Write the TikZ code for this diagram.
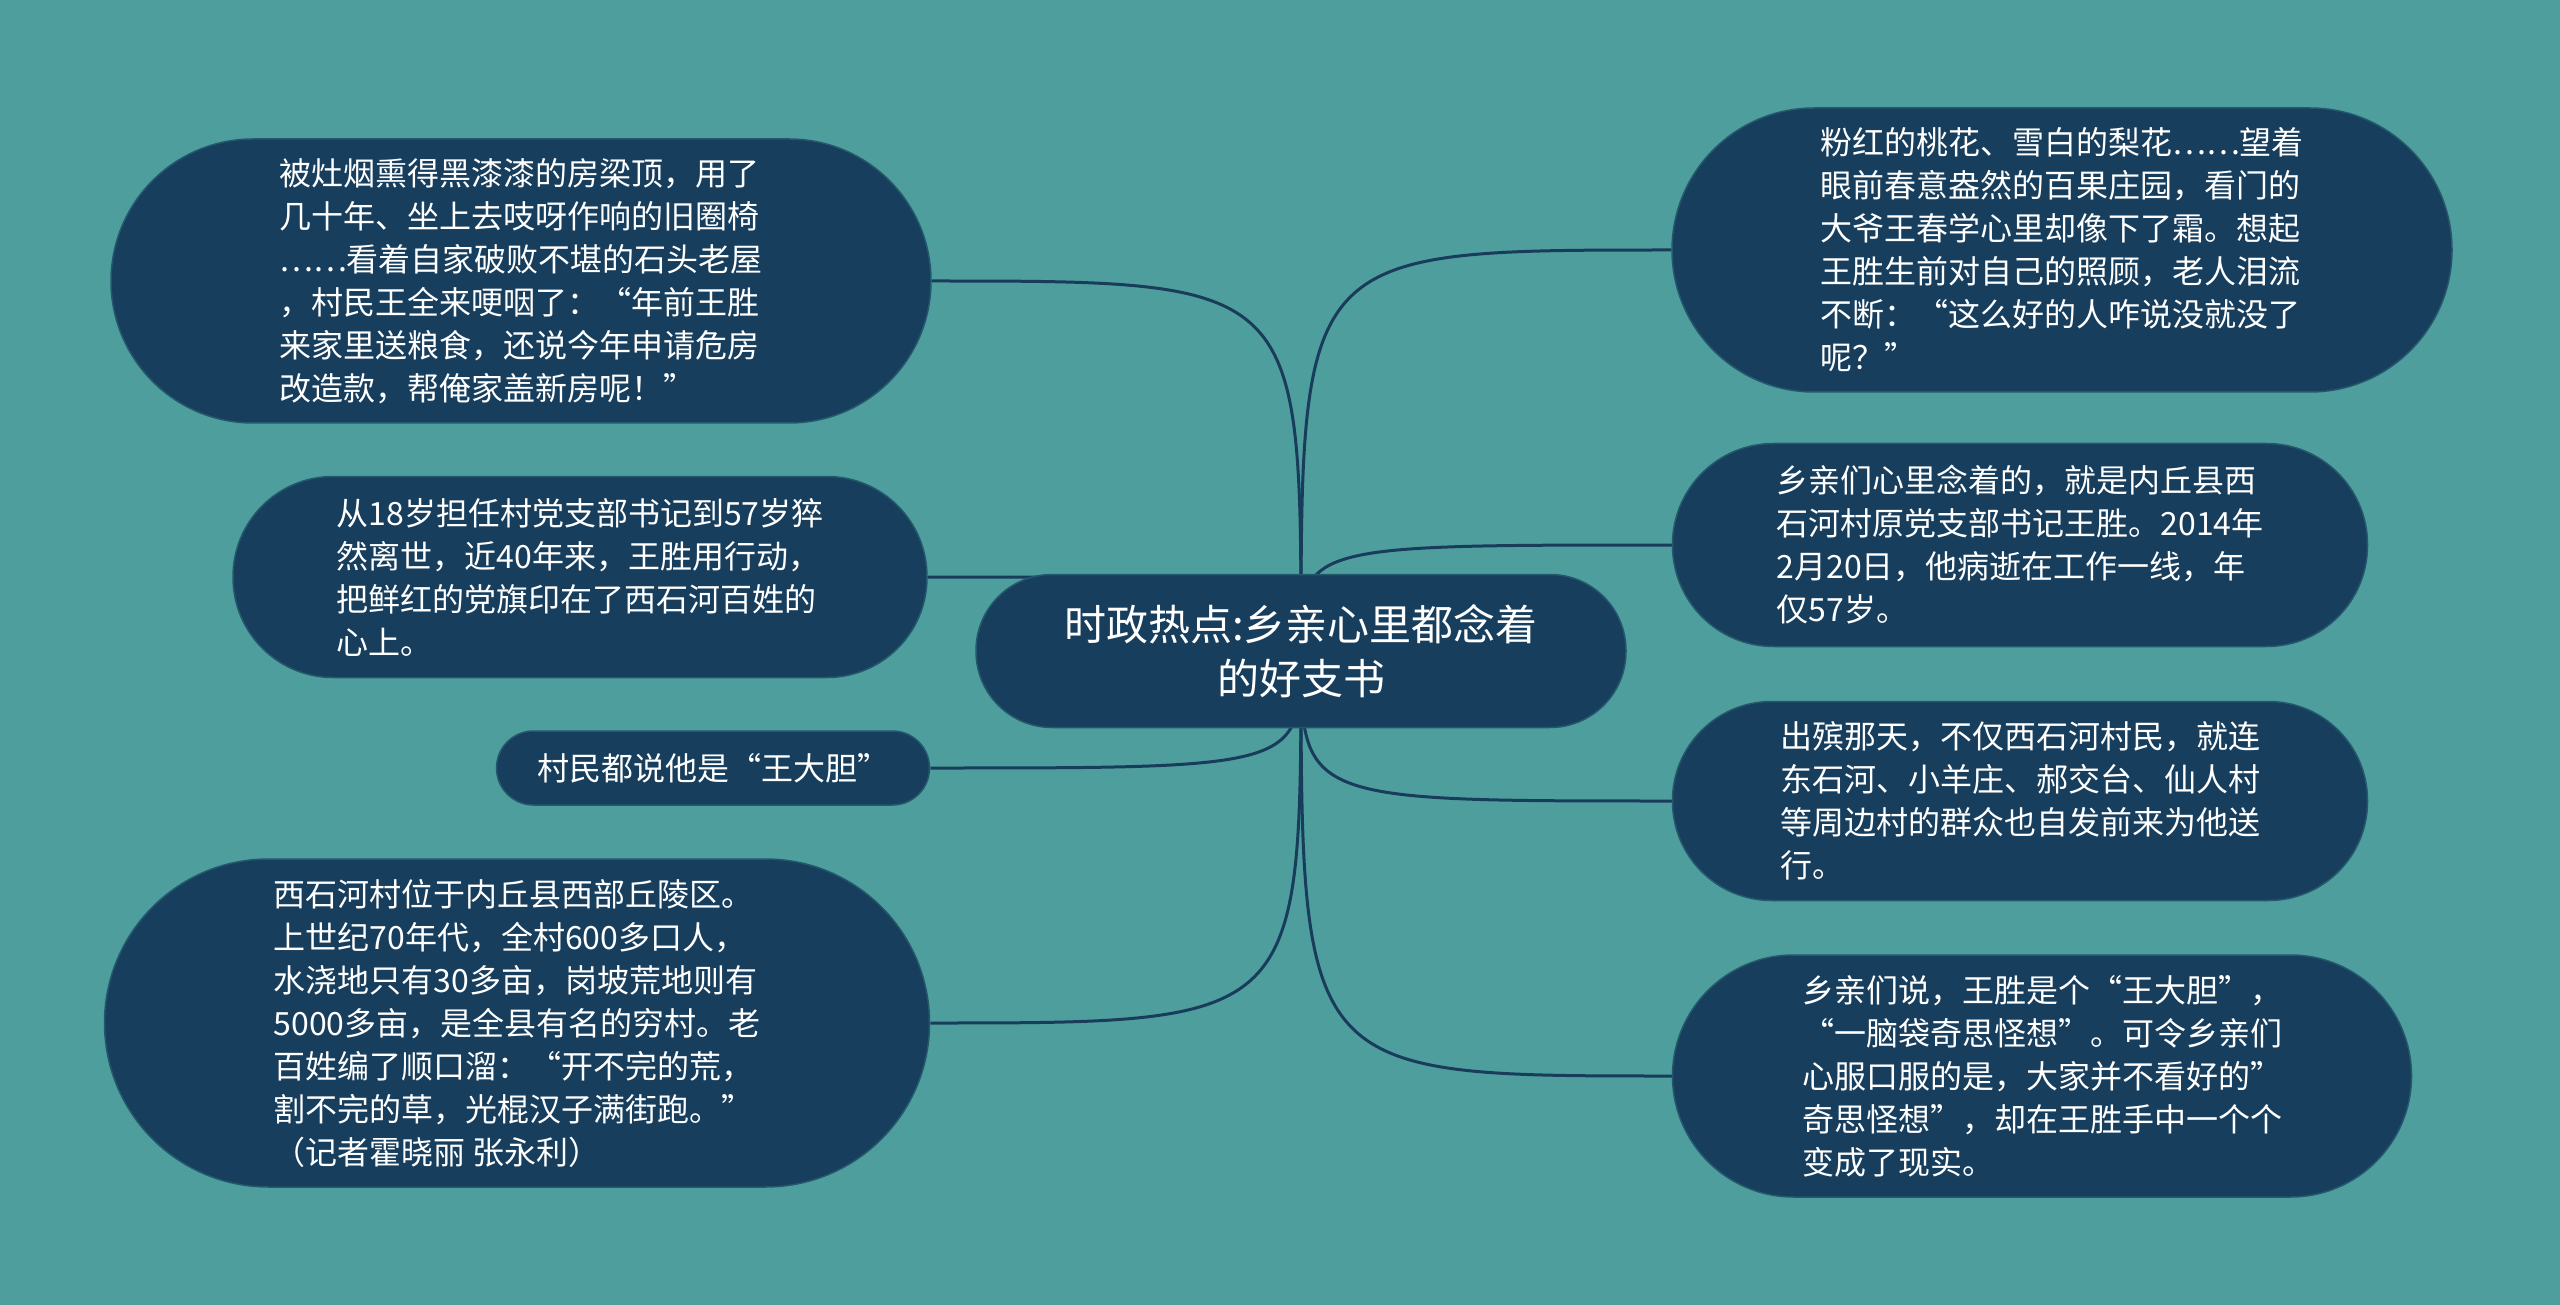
\documentclass[tikz,border=0pt]{standalone}
\usepackage{fontspec}
\setmainfont{Noto Sans CJK SC}
\usetikzlibrary{backgrounds}
\definecolor{bg}{RGB}{78,158,157}
\definecolor{nodefill}{RGB}{23,62,93}
\definecolor{nodeborder}{RGB}{36,88,108}
\definecolor{edgecol}{RGB}{24,60,90}
\begin{document}
\begin{tikzpicture}[x=1pt,y=-1pt,
  leaf/.style={fill=nodefill, draw=nodeborder, line width=1.5pt, text=white,
    align=left, inner sep=0pt, font=\fontsize{32}{43}\selectfont},
  rootbox/.style={fill=nodefill, draw=nodeborder, line width=1.5pt, text=white,
    align=center, inner sep=0pt, font=\fontsize{42}{54}\selectfont},
  link/.style={draw=edgecol, line width=3pt}]
\useasboundingbox (0,0) rectangle (2560,1305);

\node[rootbox, minimum width=650pt, minimum height=153pt, rounded corners=76pt] (root) at (1301,651)
  {时政热点:乡亲心里都念着\\的好支书};

\node[leaf, minimum width=820pt, minimum height=284pt, rounded corners=142pt] (tl) at (521,281)
  {被灶烟熏得黑漆漆的房梁顶，用了\\几十年、坐上去吱呀作响的旧圈椅\\……看着自家破败不堪的石头老屋\\，村民王全来哽咽了：“年前王胜\\来家里送粮食，还说今年申请危房\\改造款，帮俺家盖新房呢！”};

\node[leaf, minimum width=694pt, minimum height=201pt, rounded corners=100pt] (l2) at (580,577)
  {从18岁担任村党支部书记到57岁猝\\然离世，近40年来，王胜用行动，\\把鲜红的党旗印在了西石河百姓的\\心上。};

\node[leaf, minimum width=433pt, minimum height=74pt, rounded corners=37pt] (l3) at (713,768)
  {村民都说他是“王大胆”};

\node[leaf, minimum width=825pt, minimum height=328pt, rounded corners=164pt] (l4) at (517,1023)
  {西石河村位于内丘县西部丘陵区。\\上世纪70年代，全村600多口人，\\水浇地只有30多亩，岗坡荒地则有\\5000多亩，是全县有名的穷村。老\\百姓编了顺口溜：“开不完的荒，\\割不完的草，光棍汉子满街跑。”\\（记者霍晓丽 张永利）};

\node[leaf, minimum width=780pt, minimum height=284pt, rounded corners=142pt] (r1) at (2062,250)
  {粉红的桃花、雪白的梨花……望着\\眼前春意盎然的百果庄园，看门的\\大爷王春学心里却像下了霜。想起\\王胜生前对自己的照顾，老人泪流\\不断：“这么好的人咋说没就没了\\呢？”};

\node[leaf, minimum width=695pt, minimum height=203pt, rounded corners=101pt] (r2) at (2020,545)
  {乡亲们心里念着的，就是内丘县西\\石河村原党支部书记王胜。2014年\\2月20日，他病逝在工作一线，年\\仅57岁。};

\node[leaf, minimum width=695pt, minimum height=199pt, rounded corners=99pt] (r3) at (2020,801)
  {出殡那天，不仅西石河村民，就连\\东石河、小羊庄、郝交台、仙人村\\等周边村的群众也自发前来为他送\\行。};

\node[leaf, minimum width=739pt, minimum height=242pt, rounded corners=121pt] (r4) at (2042,1076)
  {乡亲们说，王胜是个“王大胆”，\\“一脑袋奇思怪想”。可令乡亲们\\心服口服的是，大家并不看好的”\\奇思怪想”，却在王胜手中一个个\\变成了现实。};

\begin{pgfonlayer}{background}
  \fill[bg] (0,0) rectangle (2560,1305);
  \foreach \n in {tl,l2,l3,l4}
    \draw[link] (root.center) .. controls (root.center |- \n.east) .. (\n.east);
  \foreach \n in {r1,r2,r3,r4}
    \draw[link] (root.center) .. controls (root.center |- \n.west) .. (\n.west);
\end{pgfonlayer}
\end{tikzpicture}
\end{document}
